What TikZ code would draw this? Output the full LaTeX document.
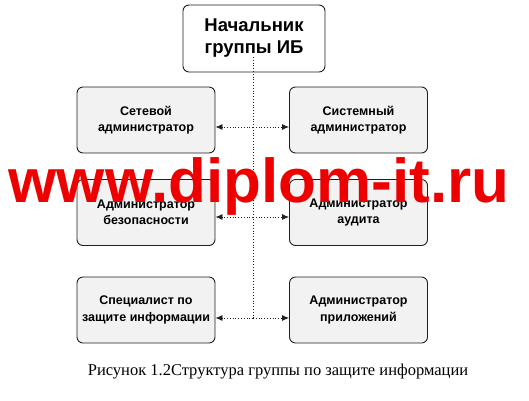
\documentclass[tikz,border=0pt]{standalone}
\usepackage{fontspec}
\setmainfont{Liberation Serif}
\setsansfont{Liberation Sans}
\usetikzlibrary{arrows.meta}
\definecolor{boxfill}{HTML}{F2F2F2}
\definecolor{boxline}{HTML}{202020}
\definecolor{wmred}{HTML}{EE0000}
\tikzset{
  rolebox/.style={draw=boxline, line width=0.9pt, rounded corners=6pt, fill=boxfill,
    minimum width=138pt, minimum height=66pt, align=center, inner sep=0pt,
    font=\sffamily\bfseries\fontsize{12.5}{16.5}\selectfont},
  headbox/.style={rolebox, fill=white, minimum width=142pt, minimum height=67pt,
    font=\sffamily\bfseries\fontsize{18.5}{22}\selectfont},
  dotline/.style={draw=boxline, line width=0.8pt, dotted},
  dotarrow/.style={dotline, -{Latex[length=7pt,width=6pt]}},
}
\begin{document}
\begin{tikzpicture}[x=1pt,y=-1pt]
\useasboundingbox (0,0) rectangle (529,400);
\node[headbox] (top) at (254,38.5) {Начальник\\группы ИБ};
\node[rolebox] (L1) at (146,120) {Сетевой\\администратор};
\node[rolebox] (R1) at (358.5,120) {Системный\\администратор};
\node[rolebox] (L2) at (146,212.5) {Администратор\\безопасности};
\node[rolebox] (R2) at (358.5,212.5) {Администратор\\аудита};
\node[rolebox] (L3) at (146,310) {Специалист по\\защите информации};
\node[rolebox] (R3) at (358.5,310) {Администратор\\приложений};
\coordinate (s0) at (253,57);
\coordinate (c1) at (253,127);
\coordinate (c2) at (253,217);
\coordinate (c3) at (253,318);
\draw[dotline] (s0) -- (c3);
\draw[dotarrow] (c1) -- (c1 -| L1.east);
\draw[dotarrow] (c1) -- (c1 -| R1.west);
\draw[dotarrow] (c2) -- (c2 -| L2.east);
\draw[dotarrow] (c2) -- (c2 -| R2.west);
\draw[dotarrow] (c3) -- (c3 -| L3.east);
\draw[dotarrow] (c3) -- (c3 -| R3.west);
\node[font=\sffamily\bfseries\fontsize{62}{62}\selectfont, text=wmred, anchor=base, inner sep=0pt] (wm) at (259,202) {www.diplom-it.ru};
\node[font=\fontsize{16.5}{19}\selectfont, inner sep=0pt] (cap) at (278,372) {Рисунок 1.2Структура группы по защите информации};
\end{tikzpicture}
\end{document}
